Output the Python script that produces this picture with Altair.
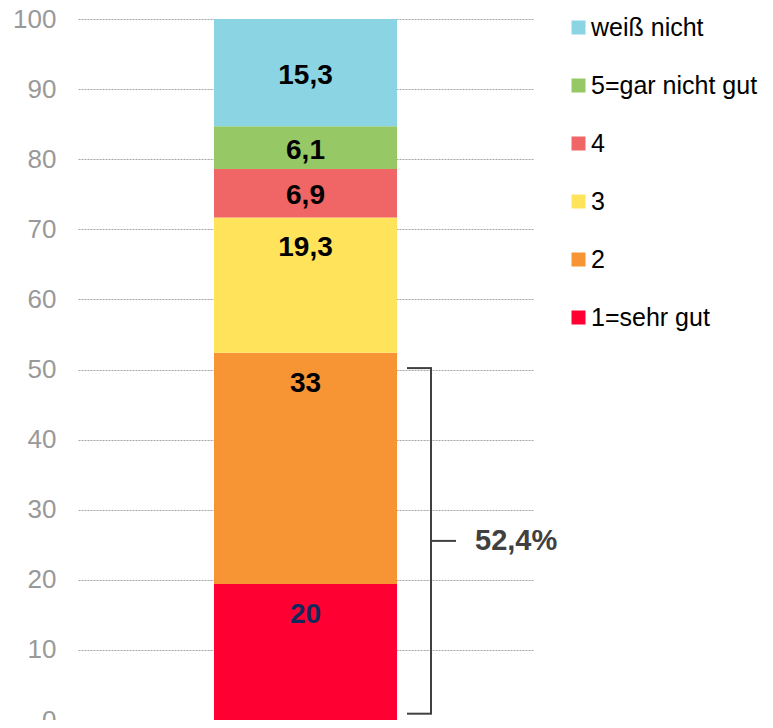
import altair as alt
import pandas as pd

categories = ["1=sehr gut", "2", "3", "4", "5=gar nicht gut", "weiß nicht"]
values = [19.4, 33.0, 19.3, 6.9, 6.1, 15.3]
labels = ["20", "33", "19,3", "6,9", "6,1", "15,3"]
label_colors = ["#13295B", "#000000", "#000000", "#000000", "#000000", "#000000"]
colors = ["#FF0033", "#F79433", "#FFE35A", "#F06565", "#96C965", "#8AD4E4"]
y_ticks = list(range(0, 101, 10))
bracket_range = [0.9, 50.2]

FONT = "Liberation Sans"

rows = []
base = 0.0
n = len(categories)
for i, (c, v, lab, lc) in enumerate(zip(categories, values, labels, label_colors)):
    top = base + v
    mid = (base + top) / 2
    ly = mid if i == n - 1 else max(mid, top - 4)
    rows.append({"grp": "", "cat": c, "order": i, "y0": base, "y1": top,
                 "ly": ly, "label": lab, "lcol": lc})
    base = top
df = pd.DataFrame(rows)

xenc = alt.X("grp:N", axis=None,
             scale=alt.Scale(paddingInner=0, paddingOuter=0.743))
yscale = alt.Scale(domain=[0, 100], nice=False)

bars = alt.Chart(df).mark_bar().encode(
    x=xenc,
    y=alt.Y("y0:Q", scale=yscale,
            axis=alt.Axis(values=y_ticks, title=None, domain=False, ticks=False,
                          labelColor="#999999", labelFontSize=26, labelFont=FONT,
                          labelPadding=22, grid=True, gridColor="#A6A6A6",
                          gridDash=[2, 1], gridWidth=1)),
    y2="y1:Q",
    color=alt.Color("cat:N",
                    scale=alt.Scale(domain=categories[::-1], range=colors[::-1]),
                    legend=alt.Legend(title=None, orient="none", legendX=488, legendY=-4,
                                      symbolType="square", symbolSize=196,
                                      symbolStrokeWidth=0, labelFontSize=25,
                                      labelFont=FONT, labelColor="#000000",
                                      labelOffset=0, rowPadding=32, padding=0,
                                      labelLimit=300)),
    order=alt.Order("order:Q"),
)

text = alt.Chart(df).mark_text(baseline="middle", fontWeight="bold", fontSize=28,
                               font=FONT, dy=3).encode(
    x=xenc,
    y=alt.Y("ly:Q", scale=yscale),
    text="label:N",
    color=alt.Color("lcol:N", scale=None),
)

bdf = pd.DataFrame({"lo": [bracket_range[0]], "hi": [bracket_range[1]],
                    "mid": [(bracket_range[0] + bracket_range[1]) / 2],
                    "txt": [f"{values[0] + values[1]:.1f}".replace(".", ",") + "%"]})
bc = "#404040"
vline = alt.Chart(bdf).mark_rule(color=bc, strokeWidth=2).encode(
    x=alt.value(353), y=alt.Y("lo:Q", scale=yscale), y2="hi:Q")
ttop = alt.Chart(bdf).mark_rule(color=bc, strokeWidth=2).encode(
    x=alt.value(329), x2=alt.value(354), y=alt.Y("hi:Q", scale=yscale))
tbot = alt.Chart(bdf).mark_rule(color=bc, strokeWidth=2).encode(
    x=alt.value(329), x2=alt.value(354), y=alt.Y("lo:Q", scale=yscale))
tmid = alt.Chart(bdf).mark_rule(color=bc, strokeWidth=2).encode(
    x=alt.value(353), x2=alt.value(378), y=alt.Y("mid:Q", scale=yscale))
btxt = alt.Chart(bdf).mark_text(align="left", baseline="middle", fontWeight="bold",
                                fontSize=29, font=FONT, color=bc).encode(
    x=alt.value(397), y=alt.Y("mid:Q", scale=yscale), text="txt:N")

chart = alt.layer(bars, text, vline, ttop, tbot, tmid, btxt).properties(
    width=455, height=701,
    autosize=alt.AutoSizeParams(type="none"),
    padding={"left": 70, "top": 11, "right": 232, "bottom": 0},
).configure_view(stroke=None)

chart.save("out.html", embed_options={"renderer": "svg", "actions": False})
